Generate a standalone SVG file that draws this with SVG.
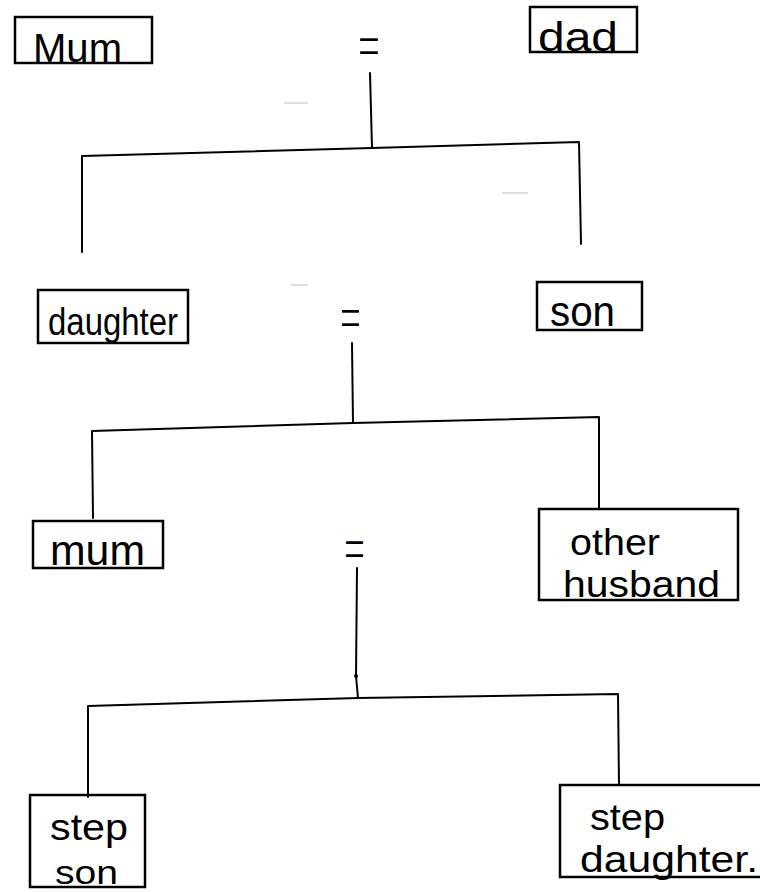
<svg xmlns="http://www.w3.org/2000/svg" width="760" height="892" viewBox="0 0 760 892">
<style>
.box{fill:none;stroke:#000;stroke-width:2.5;stroke-linejoin:miter}
.ln{fill:none;stroke:#000;stroke-width:2;stroke-linecap:round;stroke-linejoin:round}
.t{font-family:"Liberation Sans",Arial,sans-serif;fill:#000}
.eq{font-family:"Open Sans","Liberation Sans",sans-serif;font-weight:300;fill:#000}
.speck{stroke:#bbb;stroke-width:1}
</style>
<rect width="760" height="892" fill="#fff"/>
<g id="connectors">
<path class="ln" d="M370 73 L372 148"/>
<path class="ln" d="M82 252 L82 156 L372 148 L579 142 L581 244"/>
<path class="ln" d="M352 343 L353 423"/>
<path class="ln" d="M93 518 L92 431 L353 423 L599 417 L599 509"/>
<path class="ln" d="M357 568 L356 676 L358 698"/>
<circle cx="356" cy="676" r="2"/>
<path class="ln" d="M88 797 L88 706 L358 698 L618 694 L619 785"/>
<text class="eq" x="358" y="68" font-size="62" textLength="22" lengthAdjust="spacingAndGlyphs">=</text>
<text class="eq" x="340" y="341" font-size="66" textLength="21" lengthAdjust="spacingAndGlyphs">=</text>
<text class="eq" x="344" y="571" font-size="62" textLength="21" lengthAdjust="spacingAndGlyphs">=</text>
</g>
<g id="speck">
<line class="speck" x1="284" y1="103" x2="308" y2="103"/>
<line class="speck" x1="290" y1="285" x2="308" y2="285"/>
<line class="speck" x1="502" y1="193" x2="528" y2="193"/>
</g>
<g id="node-mum">
<rect class="box" x="15" y="17" width="137" height="46"/>
<text class="t" x="33" y="62" font-size="40" textLength="89" lengthAdjust="spacingAndGlyphs">Mum</text>
</g>
<g id="node-dad">
<rect class="box" x="530" y="7" width="107" height="45"/>
<text class="t" x="538" y="51" font-size="40" textLength="80" lengthAdjust="spacingAndGlyphs">dad</text>
</g>
<g id="node-daughter">
<rect class="box" x="38" y="290" width="150" height="53"/>
<text class="t" x="48" y="335" font-size="38" textLength="130" lengthAdjust="spacingAndGlyphs">daughter</text>
</g>
<g id="node-son">
<rect class="box" x="537" y="282" width="105" height="48"/>
<text class="t" x="550" y="326" font-size="42" textLength="65" lengthAdjust="spacingAndGlyphs">son</text>
</g>
<g id="node-mum2">
<rect class="box" x="33" y="521" width="130" height="47"/>
<text class="t" x="50" y="565" font-size="42" textLength="95" lengthAdjust="spacingAndGlyphs">mum</text>
</g>
<g id="node-other-husband">
<rect class="box" x="539" y="509" width="199" height="91"/>
<text class="t" x="570" y="555" font-size="36" textLength="90" lengthAdjust="spacingAndGlyphs">other</text>
<text class="t" x="563" y="597" font-size="36" textLength="157" lengthAdjust="spacingAndGlyphs">husband</text>
</g>
<g id="node-step-son">
<rect class="box" x="30" y="795" width="115" height="92"/>
<text class="t" x="50" y="840" font-size="36" textLength="78" lengthAdjust="spacingAndGlyphs">step</text>
<text class="t" x="55" y="884" font-size="34" textLength="63" lengthAdjust="spacingAndGlyphs">son</text>
</g>
<g id="node-step-daughter">
<rect class="box" x="560" y="785" width="215" height="92"/>
<text class="t" x="590" y="830" font-size="36" textLength="75" lengthAdjust="spacingAndGlyphs">step</text>
<text class="t" x="580" y="872" font-size="36" textLength="178" lengthAdjust="spacingAndGlyphs">daughter.</text>
</g>
</svg>
